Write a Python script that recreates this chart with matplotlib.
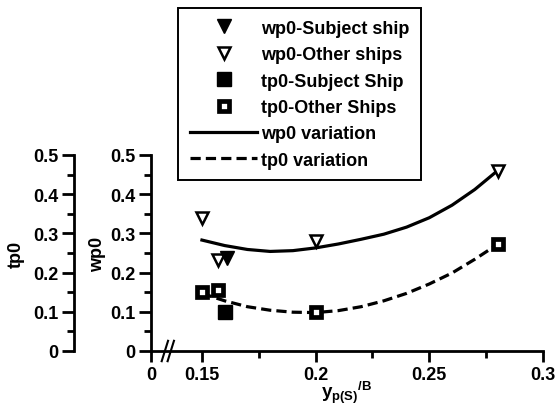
import numpy as np
import matplotlib
matplotlib.use("Agg")
import matplotlib.pyplot as plt
from matplotlib.lines import Line2D

plt.rcParams['font.family'] = ['Liberation Sans', 'DejaVu Sans']
plt.rcParams['font.weight'] = 'bold'
plt.rcParams['mathtext.fontset'] = 'custom'
plt.rcParams['mathtext.rm'] = 'Liberation Sans:bold'
plt.rcParams['mathtext.bf'] = 'Liberation Sans:bold'

# data
wp0_subject_x = [0.161]
wp0_subject_y = [0.237]
wp0_other_x = [0.150, 0.157, 0.200, 0.280]
wp0_other_y = [0.340, 0.232, 0.280, 0.459]
tp0_subject_x = [0.160]
tp0_subject_y = [0.099]
tp0_other_x = [0.150, 0.157, 0.200, 0.280]
tp0_other_y = [0.151, 0.155, 0.100, 0.273]

curve_x = [0.15, 0.16, 0.17, 0.18, 0.19, 0.20, 0.21, 0.22, 0.23, 0.24, 0.25, 0.26, 0.27, 0.28]
wp0_curve = [0.283, 0.269, 0.259, 0.254, 0.256, 0.263, 0.273, 0.285, 0.298, 0.316, 0.340, 0.372, 0.412, 0.460]
tp0_curve = [0.147, 0.128, 0.113, 0.104, 0.099, 0.098, 0.103, 0.113, 0.128, 0.147, 0.171, 0.199, 0.234, 0.272]

xticks = [0.15, 0.2, 0.25, 0.3]
xminor = [0.175, 0.225, 0.275]
yticks = [0, 0.1, 0.2, 0.3, 0.4, 0.5]
x_zero = 0.1276   # where "0" sits on the broken x axis

W, H = 559, 410
fig = plt.figure(figsize=(W / 100, H / 100), dpi=100)
ax = fig.add_axes([151 / W, 1 - 352 / H, (543 - 151) / W, (352 - 156) / H])
ax2 = fig.add_axes([74 / W, 1 - 352 / H, 0.001, (352 - 156) / H])

lw_sp = 2.0
for a in (ax, ax2):
    a.set_facecolor('none')
    for s in ('top', 'right'):
        a.spines[s].set_visible(False)
    a.spines['left'].set_linewidth(lw_sp)
    a.set_ylim(0, 0.5)
    a.set_yticks(yticks)
    a.set_yticklabels(['0', '0.1', '0.2', '0.3', '0.4', '0.5'])
    a.set_yticks(np.arange(0.05, 0.5, 0.1), minor=True)
    a.tick_params(axis='y', which='major', direction='out', length=9, width=lw_sp,
                  labelsize=13, pad=2)
    a.tick_params(axis='y', which='minor', direction='out', length=5, width=lw_sp)

ax2.spines['bottom'].set_visible(False)
ax2.set_xticks([])
ax2.set_ylabel('tp0', fontsize=13, fontweight='bold', labelpad=6)

ax.spines['bottom'].set_linewidth(lw_sp)
ax.set_xlim(x_zero, 0.3)
ax.set_xticks([x_zero] + xticks)
ax.set_xticklabels(['0', '0.15', '0.2', '0.25', '0.3'])
ax.set_xticks(xminor, minor=True)
ax.tick_params(axis='x', which='major', direction='out', length=8, width=lw_sp,
               labelsize=13, pad=3)
ax.tick_params(axis='x', which='minor', direction='out', length=5, width=lw_sp)
ax.set_ylabel('wp0', fontsize=13, fontweight='bold', labelpad=3)
ax.set_xlabel(r'$\mathrm{y_{p(S)}{}^{/B}}$', fontsize=13.5, labelpad=-3)

# axis break marks
for dx in (-0.0013, 0.0013):
    ax.plot([0.1350 + dx - 0.0014, 0.1350 + dx + 0.0014], [-0.026, 0.026],
            color='black', lw=1.5, clip_on=False)

ax.plot(curve_x, wp0_curve, color='black', lw=2.3)
ax.plot(curve_x, tp0_curve, color='black', lw=2.3, dashes=(3.2, 1.6))
ax.plot(wp0_other_x, wp0_other_y, linestyle='none', marker='v', ms=8.5,
        mfc='white', mec='black', mew=1.8)
ax.plot(wp0_subject_x, wp0_subject_y, linestyle='none', marker='v', ms=9.5,
        mfc='black', mec='black')
ax.plot(tp0_other_x, tp0_other_y, linestyle='none', marker='s', ms=7,
        mfc='white', mec='black', mew=3.4)
ax.plot(tp0_subject_x, tp0_subject_y, linestyle='none', marker='s', ms=9.5,
        mfc='black', mec='black')

handles = [
    Line2D([], [], linestyle='none', marker='v', ms=9.5, mfc='black', mec='black'),
    Line2D([], [], linestyle='none', marker='v', ms=8.5, mfc='white', mec='black', mew=1.8),
    Line2D([], [], linestyle='none', marker='s', ms=9.5, mfc='black', mec='black'),
    Line2D([], [], linestyle='none', marker='s', ms=7, mfc='white', mec='black', mew=3.4),
    Line2D([], [], color='black', lw=2.3),
    Line2D([], [], color='black', lw=2.3, dashes=(3.2, 1.6)),
]
labels = ['wp0-Subject ship', 'wp0-Other ships', 'tp0-Subject Ship',
          'tp0-Other Ships', 'wp0 variation', 'tp0 variation']
leg = fig.legend(handles, labels, loc='upper left',
                 bbox_to_anchor=(178 / W, 1 - 9 / H), bbox_transform=fig.transFigure,
                 prop={'family': 'Liberation Sans', 'weight': 'bold', 'size': 13},
                 numpoints=1, handlelength=3.75, handletextpad=0.2,
                 labelspacing=0.52, borderpad=0.65, borderaxespad=0,
                 fancybox=False, framealpha=1, edgecolor='black')
leg.get_frame().set_linewidth(1.4)

fig.savefig('out.png', dpi=100)
